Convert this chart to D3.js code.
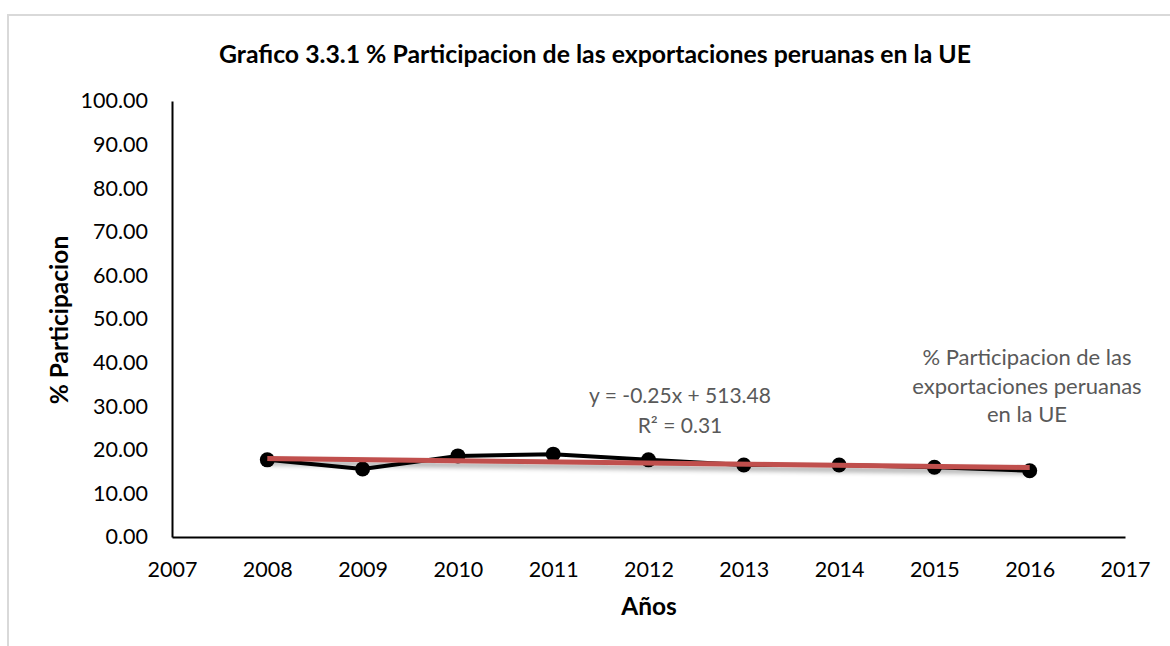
<!DOCTYPE html>
<html>
<head>
<meta charset="utf-8">
<script src="https://cdn.jsdelivr.net/npm/d3@7"></script>
<style>
  body { margin: 0; background: #fff; }
  text { font-family: Lato, "Noto Sans", sans-serif; }
</style>
</head>
<body>
<div id="chart"></div>
<script>
// data
const years = [2008, 2009, 2010, 2011, 2012, 2013, 2014, 2015, 2016];
const participacion = [17.7, 15.6, 18.6, 19.0, 17.7, 16.5, 16.5, 16.0, 15.2];
const yTicks = [0, 10, 20, 30, 40, 50, 60, 70, 80, 90, 100];
const xTicks = [2007, 2008, 2009, 2010, 2011, 2012, 2013, 2014, 2015, 2016, 2017];
const trendLabel = ["y = -0.25x + 513.48", "R² = 0.31"];
const seriesLabel = ["% Participacion de las", "exportaciones peruanas", "en la UE"];

const W = 1170, H = 646;
const margin = { top: 101, right: 45, bottom: 109, left: 172 };
const width = W - margin.left - margin.right;
const height = H - margin.top - margin.bottom;

const svg = d3.select("#chart").append("svg")
  .attr("width", W)
  .attr("height", H);

// outer chart frame (only top + left visible)
svg.append("path")
  .attr("d", `M8,${H} L8,15 L${W},15`)
  .attr("fill", "none")
  .attr("stroke", "#d9d9d9")
  .attr("stroke-width", 2);

const defs = svg.append("defs");
const shadow = defs.append("filter").attr("id", "shadow")
  .attr("x", "-5%").attr("y", "-100%").attr("width", "110%").attr("height", "400%");
shadow.append("feGaussianBlur").attr("in", "SourceAlpha").attr("stdDeviation", 2.5);
shadow.append("feOffset").attr("dx", 0).attr("dy", 4).attr("result", "blur");
shadow.append("feComponentTransfer").append("feFuncA").attr("type", "linear").attr("slope", 0.35);
const merge = shadow.append("feMerge");
merge.append("feMergeNode");
merge.append("feMergeNode").attr("in", "SourceGraphic");

const g = svg.append("g")
  .attr("transform", `translate(${margin.left},${margin.top})`);

const x = d3.scaleLinear().domain([2007, 2017]).range([0, width]);
const y = d3.scaleLinear().domain([0, 100]).range([height, 0]);

// Title
svg.append("text")
  .attr("x", 595)
  .attr("y", 63)
  .attr("text-anchor", "middle")
  .style("font-size", "24.8px")
  .style("font-weight", "bold")
  .attr("fill", "#000")
  .text("Grafico 3.3.1 % Participacion de las exportaciones peruanas en la UE");

// Y axis
const yAxis = d3.axisLeft(y)
  .tickValues(yTicks)
  .tickFormat(d3.format(".2f"))
  .tickSize(0)
  .tickPadding(24);
g.append("g").call(yAxis)
  .call(s => s.select(".domain").attr("stroke", "#000").attr("stroke-width", 2))
  .selectAll("text")
  .style("font-size", "21.5px")
  .style("font-family", "Lato, sans-serif")
  .attr("fill", "#000");

// X axis
const xAxis = d3.axisBottom(x)
  .tickValues(xTicks)
  .tickFormat(d3.format("d"))
  .tickSize(0)
  .tickPadding(25);
g.append("g")
  .attr("transform", `translate(0,${height})`)
  .call(xAxis)
  .call(s => s.select(".domain").attr("stroke", "#000").attr("stroke-width", 2))
  .selectAll("text")
  .style("font-size", "21.5px")
  .style("font-family", "Lato, sans-serif")
  .attr("fill", "#000");

// axis titles
svg.append("text")
  .attr("transform", "translate(68,320) rotate(-90)")
  .attr("text-anchor", "middle")
  .style("font-size", "24.5px")
  .style("font-weight", "bold")
  .text("% Participacion");

svg.append("text")
  .attr("x", 649)
  .attr("y", 615)
  .attr("text-anchor", "middle")
  .style("font-size", "24.5px")
  .style("font-weight", "bold")
  .text("Años");

// series line + markers
const data = years.map((yr, i) => ({ yr, v: participacion[i] }));
const line = d3.line().x(d => x(d.yr)).y(d => y(d.v));

g.append("path")
  .datum(data)
  .attr("d", line)
  .attr("fill", "none")
  .attr("stroke", "#000")
  .attr("stroke-width", 4)
  .attr("stroke-linejoin", "round");

g.selectAll(".pt")
  .data(data)
  .enter().append("circle")
  .attr("class", "pt")
  .attr("cx", d => x(d.yr))
  .attr("cy", d => y(d.v))
  .attr("r", 7.5)
  .attr("fill", "#000");

// linear trendline (least squares on the series)
const mx = d3.mean(years), my = d3.mean(participacion);
const slope = d3.sum(data, d => (d.yr - mx) * (d.v - my)) / d3.sum(years, v => (v - mx) ** 2);
const icpt = my - slope * mx;
const x0 = d3.min(years), x1 = d3.max(years);

g.append("line")
  .attr("x1", x(x0)).attr("y1", y(icpt + slope * x0))
  .attr("x2", x(x1)).attr("y2", y(icpt + slope * x1))
  .attr("stroke", "#c0504d")
  .attr("stroke-width", 5)
  .attr("filter", "url(#shadow)");

// trendline equation
svg.append("text")
  .attr("x", 680)
  .attr("y", 403)
  .attr("text-anchor", "middle")
  .attr("fill", "#595959")
  .style("font-size", "21px")
  .selectAll("tspan")
  .data(trendLabel)
  .enter().append("tspan")
  .attr("x", 680)
  .attr("dy", (d, i) => i === 0 ? 0 : 30)
  .text(d => d);

// series data label
svg.append("text")
  .attr("x", 1027)
  .attr("y", 365)
  .attr("text-anchor", "middle")
  .attr("fill", "#595959")
  .style("font-size", "22px")
  .selectAll("tspan")
  .data(seriesLabel)
  .enter().append("tspan")
  .attr("x", 1027)
  .attr("dy", (d, i) => i === 0 ? 0 : 28.5)
  .text(d => d);
</script>
</body>
</html>
